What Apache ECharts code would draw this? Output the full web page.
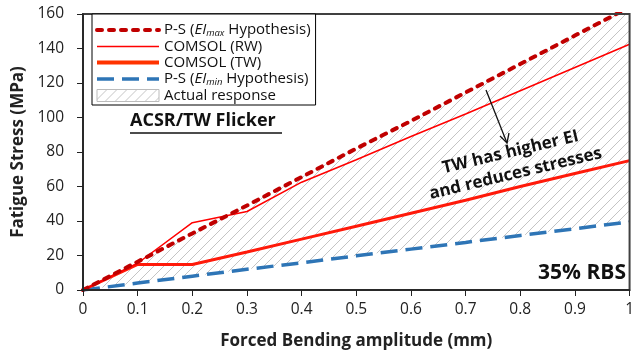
<!DOCTYPE html>
<html><head><meta charset="utf-8">
<script src="https://cdn.jsdelivr.net/npm/echarts@6/dist/echarts.min.js"></script>
<style>html,body{margin:0;padding:0;background:#fff}#c{width:637px;height:355px}</style>
</head><body><div id="c"></div>
<script>
const xVals = [0, 0.1, 0.2, 0.3, 0.4, 0.5, 0.6, 0.7, 0.8, 0.9, 1.0];
const psMax = [0, 16.4, 32.8, 49, 65.5, 82, 98, 114.5, 131, 147.5, 164];
const comsolRW = [0, 15.5, 39, 45.5, 62.5, 75.5, 89, 102, 115.5, 129, 142.5];
const comsolTW = [0, 14.8, 14.8, 22, 29.5, 37, 44.5, 52, 60, 67.5, 75];
const psMin = [0, 4, 8, 12, 15.8, 19.8, 23.7, 27.6, 31.6, 35.5, 39.5];
const yTicks = [0, 20, 40, 60, 80, 100, 120, 140, 160];

const FONT = 'Open Sans';
function hatch() {
  const s = 10, c = document.createElement('canvas');
  c.width = s; c.height = s;
  const g = c.getContext('2d');
  g.strokeStyle = '#c4c4c4'; g.lineWidth = 1;
  g.beginPath();
  g.moveTo(0, s); g.lineTo(s, 0);
  g.moveTo(-1, 1); g.lineTo(1, -1);
  g.moveTo(s - 1, s + 1); g.lineTo(s + 1, s - 1);
  g.stroke();
  return c;
}
const pat = { image: hatch(), repeat: 'repeat' };
const pair = a => xVals.map((x, i) => [x, a[i]]);

const chart = echarts.init(document.getElementById('c'), null, { renderer: 'canvas' });
chart.setOption({
  animation: false,
  textStyle: { fontFamily: FONT },
  grid: { left: 83, right: 5, top: 14, bottom: 64, show: true, z: 6, borderColor: '#404040', borderWidth: 2, backgroundColor: 'transparent' },
  xAxis: {
    type: 'value', min: 0, max: 1, interval: 0.1, z: 7,
    name: 'Forced Bending amplitude (mm)', nameLocation: 'middle', nameGap: 43,
    nameTextStyle: { fontFamily: FONT, fontWeight: 'bold', fontSize: 17, color: '#222' },
    axisLine: { lineStyle: { color: '#222', width: 1.5 } },
    axisTick: { show: true, inside: false, length: 6, lineStyle: { color: '#222' } },
    axisLabel: { fontFamily: FONT, fontSize: 15.5, color: '#222', margin: 12 },
    splitLine: { show: false }
  },
  yAxis: {
    type: 'value', min: 0, max: 160, interval: 20, z: 7,
    name: 'Fatigue Stress (MPa)', nameLocation: 'middle', nameGap: 53,
    nameTextStyle: { fontFamily: FONT, fontWeight: 'bold', fontSize: 17, color: '#222' },
    axisLine: { show: true, lineStyle: { color: '#222', width: 1.5 } },
    axisTick: { show: true, inside: false, length: 6, lineStyle: { color: '#222' } },
    axisLabel: { fontFamily: FONT, fontSize: 15.5, color: '#222', margin: 19, formatter: v => yTicks.includes(v) ? String(v) : '' },
    splitLine: { show: false }
  },
  legend: {
    orient: 'vertical', left: 92, top: 14, itemWidth: 62, itemHeight: 12, itemGap: 1,
    padding: [8, 5, 2, 3], borderColor: '#000', borderWidth: 1, backgroundColor: '#fff', z: 8,
    itemStyle: { opacity: 0 },
    textStyle: {
      fontFamily: FONT, fontSize: 15, color: '#111', lineHeight: 14,
      rich: {
        n: { fontFamily: FONT, fontSize: 15, color: '#111', lineHeight: 14 },
        i: { fontFamily: FONT, fontSize: 15, fontStyle: 'italic', color: '#111', lineHeight: 14 },
        s: { fontFamily: FONT, fontSize: 9.5, fontStyle: 'italic', color: '#111', lineHeight: 14, padding: [6, 0, 0, 0] }
      }
    },
    formatter: function (name) {
      if (name === 'P-S (EImax Hypothesis)') return '{n|P-S (}{i|EI}{s|max}{n| Hypothesis)}';
      if (name === 'P-S (EImin Hypothesis)') return '{n|P-S (}{i|EI}{s|min}{n| Hypothesis)}';
      return name;
    },
    data: [
      { name: 'P-S (EImax Hypothesis)', lineStyle: { width: 4 } },
      { name: 'COMSOL (RW)', lineStyle: { width: 1.5 } },
      { name: 'COMSOL (TW)', lineStyle: { width: 4, color: '#FF3300' } },
      { name: 'P-S (EImin Hypothesis)', lineStyle: { width: 3.5 } },
      { name: 'Actual response', icon: 'rect', itemStyle: { color: pat, borderColor: '#bbb', borderWidth: 1, opacity: 1 } }
    ]
  },
  series: [
    { name: 'Actual response', type: 'line', data: pair(psMax), symbol: 'none', lineStyle: { opacity: 0, width: 0 }, areaStyle: { color: pat, opacity: 1 }, itemStyle: { color: '#ccc' }, silent: true, z: 1 },
    { name: 'below', type: 'line', data: pair(psMin), symbol: 'none', lineStyle: { opacity: 0, width: 0 }, areaStyle: { color: '#fff', opacity: 1 }, silent: true, z: 1 },
    { name: 'P-S (EImin Hypothesis)', type: 'line', data: pair(psMin), symbol: 'none', lineStyle: { color: '#2E75B6', width: 3.5, type: [17, 8] }, itemStyle: { color: '#2E75B6' }, z: 3 },
    { name: 'COMSOL (TW)', type: 'line', data: pair(comsolTW), symbol: 'none', lineStyle: { color: '#FF1A0A', width: 3 }, itemStyle: { color: '#FF1A0A' }, z: 4 },
    { name: 'COMSOL (RW)', type: 'line', data: pair(comsolRW), symbol: 'none', lineStyle: { color: '#FF0000', width: 1.5 }, itemStyle: { color: '#FF0000' }, z: 4 },
    { name: 'P-S (EImax Hypothesis)', type: 'line', data: pair(psMax), symbol: 'none', lineStyle: { color: '#C00000', width: 4, type: [5, 7], cap: 'round' }, itemStyle: { color: '#C00000' }, z: 5 }
  ]
});

const rot = 13.5 * Math.PI / 180;
chart.setOption({
  graphic: [
    { type: 'text', left: 130, top: 112, z: 10, style: { text: 'ACSR/TW Flicker', font: 'bold 18px "' + FONT + '"', fill: '#111' } },
    { type: 'line', z: 10, shape: { x1: 130, y1: 133, x2: 282, y2: 133 }, style: { stroke: '#111', lineWidth: 1.3 } },
    { type: 'text', right: 11, top: 263, z: 10, style: { text: '35% RBS', font: 'bold 21px "' + FONT + '"', fill: '#111' } },
    { type: 'line', z: 10, shape: { x1: 486, y1: 90, x2: 507, y2: 143 }, style: { stroke: '#111', lineWidth: 1.3 } },
    { type: 'polyline', z: 10, shape: { points: [[500, 136], [507, 143], [509, 133]] }, style: { stroke: '#111', lineWidth: 1.3, fill: null } },
    { type: 'text', x: 513, y: 163, rotation: rot, z: 10, style: { text: 'TW has higher EI\nand reduces stresses', font: 'bold 17px "' + FONT + '"', fill: '#111', align: 'center', verticalAlign: 'middle', lineHeight: 22 } }
  ]
});
</script></body></html>
